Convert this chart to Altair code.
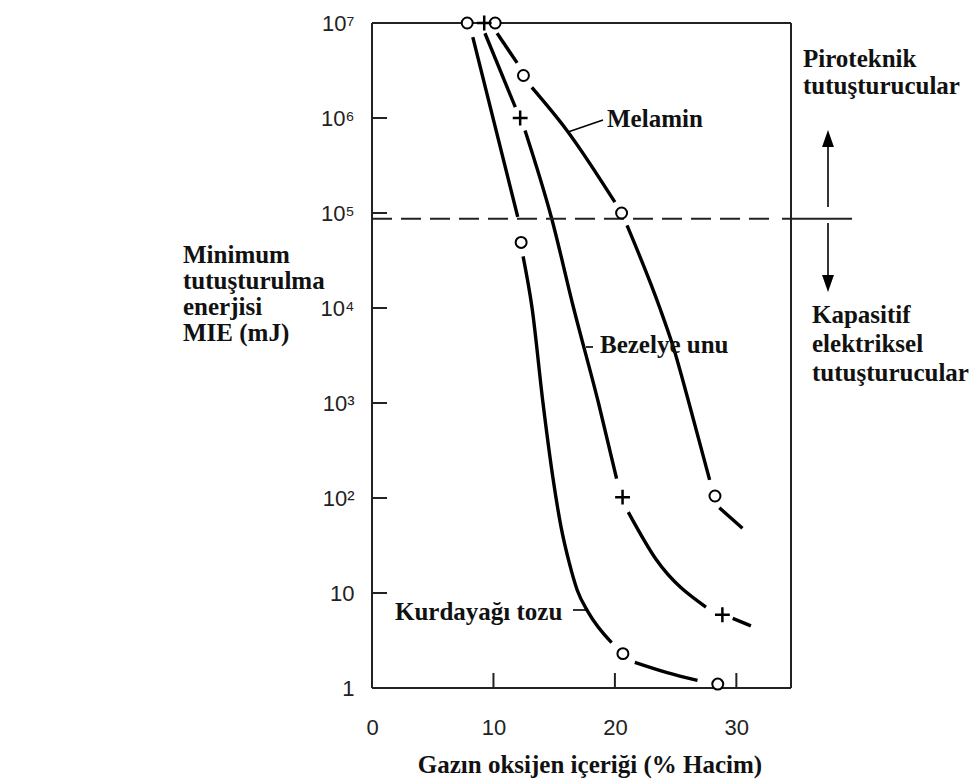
import altair as alt
import pandas as pd

# ---------------- data ----------------
# Kurdayağı tozu (circles)
KURD_MARK_X = [7.84, 12.28, 20.66, 28.47]
KURD_MARK_Y = [1.0e7, 4.9e4, 2.3, 1.1]
KURD_CURVE_X = [8.3, 12.0, 12.44, 13.18, 14.08, 14.9, 15.56, 16.25, 16.9, 17.8, 19.73, 21.64, 24.3, 26.8]
KURD_CURVE_Y = [7.1e6, 9.1e4, 3.5e4, 1.0e4, 1.0e3, 162, 50, 20.6, 10.7, 6.3, 3.0, 1.86, 1.45, 1.2]
KURD_CURVE_SEG = [0, 0, 1, 1, 1, 1, 1, 1, 1, 1, 1, 2, 2, 2]

# Bezelye unu (plus signs)
BEZ_MARK_X = [9.24, 12.2, 20.63, 28.85]
BEZ_MARK_Y = [1.0e7, 1.0e6, 102, 5.9]
BEZ_CURVE_X = [9.3, 11.8, 12.6, 14.8, 16.6, 18.65, 20.14, 21.1, 23.4, 27.5, 29.7, 31.2]
BEZ_CURVE_Y = [7.8e6, 1.3e6, 7.4e5, 8.7e4, 1.0e4, 1.0e3, 160, 71, 22.5, 7.1, 5.4, 4.5]
BEZ_CURVE_SEG = [0, 0, 1, 1, 1, 1, 1, 2, 2, 2, 3, 3]

# Melamin (circles)
MEL_MARK_X = [10.14, 12.47, 20.55, 28.24]
MEL_MARK_Y = [1.0e7, 2.8e6, 1.0e5, 105]
MEL_CURVE_X = [10.3, 11.95, 13.16, 16.05, 20.0, 21.0, 23.7, 24.8, 26.1, 27.8, 28.6, 30.5]
MEL_CURVE_Y = [7.8e6, 3.8e6, 2.1e6, 7.4e5, 1.3e5, 7.4e4, 1.0e4, 3.9e3, 1.0e3, 155, 79, 48]
MEL_CURVE_SEG = [0, 0, 1, 1, 1, 2, 2, 2, 2, 2, 3, 3]

# limit between pyrotechnic and capacitive igniters
LIMIT_Y = [8.7e4]

X_TICKS = [0, 10, 20, 30]
X_INNER_TICKS = [10, 20, 30]
Y_TICKS = [1, 10, 100, 1e3, 1e4, 1e5, 1e6, 1e7]
Y_INNER_TICKS = [10, 100, 1e3, 1e4, 1e5, 1e6]

SERIES = ["Kurdayağı tozu", "Bezelye unu", "Melamin"]

# ---------------- tables ----------------
curves = pd.concat([
    pd.DataFrame({"x": KURD_CURVE_X, "y": KURD_CURVE_Y, "seg": [f"k{s}" for s in KURD_CURVE_SEG]}),
    pd.DataFrame({"x": BEZ_CURVE_X, "y": BEZ_CURVE_Y, "seg": [f"b{s}" for s in BEZ_CURVE_SEG]}),
    pd.DataFrame({"x": MEL_CURVE_X, "y": MEL_CURVE_Y, "seg": [f"m{s}" for s in MEL_CURVE_SEG]}),
], ignore_index=True)
circles = pd.DataFrame({"x": KURD_MARK_X + MEL_MARK_X, "y": KURD_MARK_Y + MEL_MARK_Y})
pluses = pd.DataFrame({"x": BEZ_MARK_X, "y": BEZ_MARK_Y})
limit = pd.DataFrame({"y": LIMIT_Y})
yt = pd.DataFrame({"y": Y_INNER_TICKS})
xt = pd.DataFrame({"x": X_INNER_TICKS})

W, H = 419, 665
SERIF = "Liberation Serif"
SANS = "Liberation Sans"
INK = "#111111"
BOX = "#222222"

label_expr = ("datum.value < 2 ? '1' : (datum.value < 20 ? '10' : '10' + "
              "['', '', '²', '³', '⁴', '⁵', '⁶', '⁷'][round(log(datum.value) / LN10)])")

X_SCALE = alt.Scale(domain=[0, 34.5], nice=False, zero=False)
Y_SCALE = alt.Scale(type="log", domain=[1, 1e7], nice=False)
X_AXIS = alt.Axis(values=X_TICKS, domain=False, ticks=False, grid=False, labelFont=SANS,
                  labelFontSize=22, labelColor="#222222", labelPadding=29, labelFlush=False,
                  labelOverlap=False, format="d")
Y_AXIS = alt.Axis(values=Y_TICKS, domain=False, ticks=False, grid=False, labelFont=SANS,
                  labelFontSize=22, labelColor="#222222", labelPadding=18, labelExpr=label_expr,
                  labelOverlap=False)


def X():
    return alt.X("x:Q", scale=X_SCALE, axis=X_AXIS, title=None)


def Y():
    return alt.Y("y:Q", scale=Y_SCALE, axis=Y_AXIS, title=None)


base = alt.Chart(curves)

lines = base.mark_line(color="black", strokeWidth=3.4, interpolate="monotone").encode(
    x=X(), y=Y(), detail="seg:N")


def hrule(y, x1, x2, **kw):
    return alt.Chart(limit).mark_rule(**kw).encode(y=alt.value(y), x=alt.value(x1), x2=alt.value(x2))


def vrule(x, y1, y2, **kw):
    return alt.Chart(limit).mark_rule(**kw).encode(x=alt.value(x), y=alt.value(y1), y2=alt.value(y2))


frame = [
    hrule(0, 0, W, color=BOX, strokeWidth=2),
    hrule(H, 0, W, color=BOX, strokeWidth=2),
    vrule(0, 0, H, color=BOX, strokeWidth=2),
    vrule(W, 0, H, color=BOX, strokeWidth=2),
]

ytick_rules = alt.Chart(yt).mark_rule(color=BOX, strokeWidth=2).encode(
    y=Y(), x=alt.value(0), x2=alt.value(15))
xtick_rules = alt.Chart(xt).mark_rule(color=BOX, strokeWidth=2).encode(
    x=X(), y=alt.value(H), y2=alt.value(H - 15))

limit_dash = alt.Chart(limit).mark_rule(color="#222222", strokeWidth=2, strokeDash=[20, 9]).encode(
    y=Y(), x=alt.value(0), x2=alt.value(401))
limit_solid = alt.Chart(limit).mark_rule(color="#222222", strokeWidth=2).encode(
    y=Y(), x=alt.value(410), x2=alt.value(480))

circ = alt.Chart(circles).mark_point(shape="circle", filled=True, fill="white", stroke="black",
                                     strokeWidth=2, size=120, opacity=1).encode(x=X(), y=Y())
plus = alt.Chart(pluses).mark_point(shape="M-1,0L1,0M0,-1L0,1", filled=False, stroke="black",
                                    strokeWidth=2.5, size=220, opacity=1).encode(x=X(), y=Y())


def text(t, x, y, align="left", lh=26, size=25):
    return alt.Chart(limit).mark_text(text=t, font=SERIF, fontWeight="bold", fontSize=size,
                                      color=INK, align=align, baseline="alphabetic",
                                      lineBreak="\n", lineHeight=lh).encode(
        x=alt.value(x), y=alt.value(y))


texts = [
    text("Minimum\ntutuşturulma\nenerjisi\nMIE (mJ)", -189, 240, lh=26),
    text("Piroteknik\ntutuşturucular", 431, 44, lh=27),
    text("Kapasitif\nelektriksel\ntutuşturucular", 440, 300, lh=29),
    text(SERIES[2], 235, 104),
    text(SERIES[1], 228, 330),
    text(SERIES[0], 23, 597),
    text("Gazın oksijen içeriği (% Hacim)", 218, 750, align="center"),
]

leaders = [
    alt.Chart(limit).mark_rule(color="black", strokeWidth=1.6).encode(
        x=alt.value(196), y=alt.value(109), x2=alt.value(231), y2=alt.value(97)),
    hrule(324, 214, 221, color="black", strokeWidth=1.6),
    hrule(587, 201, 216, color="black", strokeWidth=1.6),
]

arrows = [
    vrule(456, 124, 184, color="black", strokeWidth=1.6),
    vrule(456, 200, 253, color="black", strokeWidth=1.6),
    alt.Chart(limit).mark_point(shape="M0,-1L0.7,1L-0.7,1Z", filled=True, color="black", size=289,
                                opacity=1).encode(x=alt.value(456), y=alt.value(115.5)),
    alt.Chart(limit).mark_point(shape="M0,1L0.7,-1L-0.7,-1Z", filled=True, color="black", size=289,
                                opacity=1).encode(x=alt.value(456), y=alt.value(260.5)),
]

chart = alt.layer(
    lines, *frame, ytick_rules, xtick_rules, limit_dash, limit_solid, circ, plus,
    *texts, *leaders, *arrows
).properties(
    width=W, height=H,
    autosize=alt.AutoSizeParams(type="none"),
    padding={"left": 372, "top": 23, "right": 182, "bottom": 94},
    background="white",
).configure_view(stroke=None)

chart.save("out.html", embed_options={"renderer": "svg", "actions": False})
